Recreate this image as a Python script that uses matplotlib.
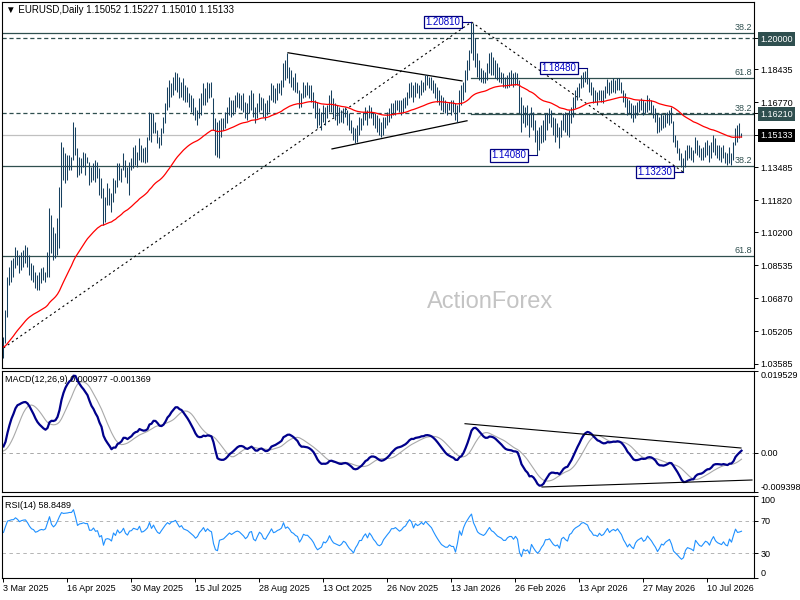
import numpy as np
import matplotlib
matplotlib.use("Agg")
from matplotlib import pyplot as plt

plt.rcParams['font.family'] = ['Liberation Sans', 'DejaVu Sans']
plt.rcParams['lines.scale_dashes'] = False

# daily bars, 3 Mar 2025 ...
highs = [
    1.0493, 1.0629, 1.0796, 1.0846, 1.0881, 1.0891, 1.0947, 1.0932, 1.0907, 1.0922,
    1.0932, 1.0957, 1.0947, 1.0907, 1.0866, 1.0856, 1.0821, 1.0806, 1.0821, 1.0841,
    1.0846, 1.0821, 1.0922, 1.1144, 1.1108, 1.1048, 1.1018, 1.1093, 1.1250, 1.1477,
    1.1451, 1.1421, 1.1411, 1.1411, 1.1401, 1.1578, 1.1552, 1.1446, 1.1401, 1.1396,
    1.1426, 1.1421, 1.1401, 1.1376, 1.1351, 1.1371, 1.1386, 1.1376, 1.1345, 1.1295,
    1.1245, 1.1199, 1.1270, 1.1245, 1.1219, 1.1295, 1.1285, 1.1371, 1.1371, 1.1345,
    1.1421, 1.1386, 1.1351, 1.1376, 1.1396, 1.1451, 1.1461, 1.1426, 1.1497, 1.1461,
    1.1446, 1.1451, 1.1502, 1.1628, 1.1623, 1.1623, 1.1578, 1.1537, 1.1502, 1.1547,
    1.1603, 1.1673, 1.1754, 1.1789, 1.1774, 1.1805, 1.1830, 1.1825, 1.1805, 1.1779,
    1.1800, 1.1764, 1.1754, 1.1724, 1.1714, 1.1699, 1.1653, 1.1638, 1.1699, 1.1724,
    1.1774, 1.1749, 1.1779, 1.1774, 1.1779, 1.1699, 1.1598, 1.1578, 1.1588, 1.1598,
    1.1598, 1.1628, 1.1653, 1.1704, 1.1689, 1.1689, 1.1714, 1.1729, 1.1724, 1.1714,
    1.1724, 1.1678, 1.1673, 1.1714, 1.1739, 1.1724, 1.1653, 1.1673, 1.1724, 1.1704,
    1.1699, 1.1673, 1.1689, 1.1714, 1.1774, 1.1764, 1.1749, 1.1774, 1.1774, 1.1789,
    1.1875, 1.1890, 1.1926, 1.1855, 1.1840, 1.1805, 1.1825, 1.1779, 1.1739, 1.1724,
    1.1779, 1.1764, 1.1779, 1.1764, 1.1764, 1.1729, 1.1689, 1.1678, 1.1648, 1.1628,
    1.1663, 1.1653, 1.1663, 1.1714, 1.1739, 1.1699, 1.1673, 1.1663, 1.1653, 1.1638,
    1.1648, 1.1653, 1.1638, 1.1623, 1.1588, 1.1552, 1.1547, 1.1562, 1.1603, 1.1598,
    1.1628, 1.1653, 1.1638, 1.1663, 1.1653, 1.1628, 1.1623, 1.1613, 1.1598, 1.1578,
    1.1603, 1.1603, 1.1628, 1.1648, 1.1673, 1.1673, 1.1689, 1.1689, 1.1689, 1.1689,
    1.1699, 1.1704, 1.1729, 1.1774, 1.1779, 1.1764, 1.1779, 1.1774, 1.1764, 1.1789,
    1.1779, 1.1815, 1.1815, 1.1805, 1.1805, 1.1789, 1.1774, 1.1754, 1.1739, 1.1714,
    1.1704, 1.1689, 1.1673, 1.1678, 1.1689, 1.1689, 1.1673, 1.1663, 1.1739, 1.1764,
    1.1779, 1.1840, 1.1890, 1.1941, 1.2081, 1.2076, 1.2001, 1.1926, 1.1890, 1.1850,
    1.1840, 1.1830, 1.1875, 1.1926, 1.1931, 1.1905, 1.1890, 1.1875, 1.1855, 1.1830,
    1.1825, 1.1805, 1.1815, 1.1830, 1.1840, 1.1825, 1.1830, 1.1825, 1.1789, 1.1704,
    1.1663, 1.1653, 1.1663, 1.1623, 1.1653, 1.1628, 1.1588, 1.1537, 1.1552, 1.1562,
    1.1588, 1.1623, 1.1623, 1.1648, 1.1638, 1.1603, 1.1598, 1.1572, 1.1552, 1.1588,
    1.1623, 1.1628, 1.1623, 1.1638, 1.1653, 1.1704, 1.1739, 1.1754, 1.1774, 1.1815,
    1.1830, 1.1835, 1.1848, 1.1800, 1.1779, 1.1754, 1.1739, 1.1729, 1.1739, 1.1739,
    1.1739, 1.1759, 1.1795, 1.1779, 1.1789, 1.1800, 1.1789, 1.1800, 1.1800, 1.1779,
    1.1739, 1.1724, 1.1699, 1.1689, 1.1673, 1.1663, 1.1663, 1.1678, 1.1689, 1.1699,
    1.1689, 1.1678, 1.1714, 1.1699, 1.1689, 1.1663, 1.1648, 1.1623, 1.1603, 1.1623,
    1.1613, 1.1623, 1.1628, 1.1638, 1.1653, 1.1580, 1.1512, 1.1487, 1.1446, 1.1421,
    1.1396, 1.1436, 1.1461, 1.1461, 1.1451, 1.1436, 1.1502, 1.1487, 1.1461, 1.1446,
    1.1451, 1.1477, 1.1487, 1.1461, 1.1477, 1.1512, 1.1497, 1.1461, 1.1461, 1.1451,
    1.1461, 1.1426, 1.1421, 1.1451, 1.1421, 1.1477, 1.1547, 1.1562, 1.1572, 1.15227,
]
lows = [
    1.0387, 1.0463, 1.0594, 1.0755, 1.0770, 1.0796, 1.0841, 1.0856, 1.0816, 1.0831,
    1.0846, 1.0866, 1.0846, 1.0806, 1.0780, 1.0770, 1.0740, 1.0730, 1.0730, 1.0765,
    1.0780, 1.0770, 1.0796, 1.0796, 1.0917, 1.0881, 1.0891, 1.0907, 1.0942, 1.1149,
    1.1285, 1.1270, 1.1285, 1.1335, 1.1335, 1.1386, 1.1411, 1.1300, 1.1310, 1.1320,
    1.1351, 1.1310, 1.1371, 1.1260, 1.1275, 1.1285, 1.1275, 1.1295, 1.1209, 1.1194,
    1.1058, 1.1073, 1.1159, 1.1159, 1.1124, 1.1174, 1.1219, 1.1250, 1.1285, 1.1275,
    1.1335, 1.1300, 1.1270, 1.1209, 1.1335, 1.1345, 1.1361, 1.1351, 1.1386, 1.1376,
    1.1376, 1.1371, 1.1376, 1.1487, 1.1477, 1.1522, 1.1522, 1.1472, 1.1446, 1.1461,
    1.1522, 1.1572, 1.1638, 1.1653, 1.1704, 1.1714, 1.1739, 1.1729, 1.1699, 1.1704,
    1.1689, 1.1678, 1.1678, 1.1653, 1.1628, 1.1613, 1.1588, 1.1562, 1.1598, 1.1613,
    1.1663, 1.1663, 1.1678, 1.1699, 1.1704, 1.1537, 1.1411, 1.1401, 1.1396, 1.1502,
    1.1537, 1.1547, 1.1572, 1.1613, 1.1603, 1.1613, 1.1628, 1.1653, 1.1648, 1.1638,
    1.1628, 1.1598, 1.1588, 1.1623, 1.1638, 1.1603, 1.1572, 1.1598, 1.1628, 1.1638,
    1.1603, 1.1588, 1.1613, 1.1628, 1.1689, 1.1678, 1.1673, 1.1689, 1.1724, 1.1714,
    1.1754, 1.1789, 1.1800, 1.1774, 1.1754, 1.1739, 1.1729, 1.1724, 1.1648, 1.1653,
    1.1699, 1.1704, 1.1714, 1.1699, 1.1678, 1.1648, 1.1598, 1.1547, 1.1562, 1.1537,
    1.1578, 1.1562, 1.1598, 1.1628, 1.1628, 1.1603, 1.1588, 1.1562, 1.1572, 1.1578,
    1.1572, 1.1603, 1.1562, 1.1537, 1.1522, 1.1487, 1.1472, 1.1477, 1.1512, 1.1537,
    1.1562, 1.1588, 1.1562, 1.1598, 1.1598, 1.1562, 1.1547, 1.1527, 1.1512, 1.1502,
    1.1512, 1.1547, 1.1562, 1.1578, 1.1598, 1.1613, 1.1613, 1.1638, 1.1628, 1.1613,
    1.1623, 1.1648, 1.1663, 1.1699, 1.1704, 1.1678, 1.1704, 1.1724, 1.1699, 1.1714,
    1.1729, 1.1739, 1.1764, 1.1749, 1.1739, 1.1724, 1.1699, 1.1678, 1.1663, 1.1638,
    1.1628, 1.1623, 1.1613, 1.1638, 1.1613, 1.1628, 1.1588, 1.1578, 1.1628, 1.1660,
    1.1689, 1.1729, 1.1789, 1.1840, 1.1926, 1.1890, 1.1855, 1.1805, 1.1789, 1.1779,
    1.1774, 1.1774, 1.1789, 1.1825, 1.1815, 1.1815, 1.1800, 1.1789, 1.1779, 1.1774,
    1.1754, 1.1749, 1.1749, 1.1754, 1.1764, 1.1754, 1.1764, 1.1764, 1.1623, 1.1527,
    1.1572, 1.1552, 1.1562, 1.1502, 1.1552, 1.1537, 1.1477, 1.1408, 1.1436, 1.1472,
    1.1477, 1.1487, 1.1537, 1.1572, 1.1552, 1.1512, 1.1477, 1.1502, 1.1446, 1.1502,
    1.1537, 1.1527, 1.1512, 1.1502, 1.1572, 1.1603, 1.1648, 1.1689, 1.1704, 1.1749,
    1.1754, 1.1779, 1.1769, 1.1729, 1.1714, 1.1673, 1.1678, 1.1663, 1.1689, 1.1678,
    1.1673, 1.1699, 1.1724, 1.1714, 1.1724, 1.1729, 1.1724, 1.1739, 1.1739, 1.1724,
    1.1678, 1.1653, 1.1613, 1.1623, 1.1598, 1.1578, 1.1598, 1.1613, 1.1628, 1.1638,
    1.1613, 1.1623, 1.1628, 1.1638, 1.1623, 1.1598, 1.1578, 1.1522, 1.1527, 1.1537,
    1.1547, 1.1552, 1.1572, 1.1562, 1.1570, 1.1477, 1.1451, 1.1421, 1.1386, 1.1351,
    1.1323, 1.1351, 1.1386, 1.1396, 1.1386, 1.1376, 1.1421, 1.1411, 1.1401, 1.1386,
    1.1386, 1.1401, 1.1411, 1.1376, 1.1396, 1.1426, 1.1411, 1.1396, 1.1386, 1.1376,
    1.1396, 1.1371, 1.1361, 1.1371, 1.1361, 1.1386, 1.1461, 1.1477, 1.1497, 1.15010,
]
closes = [
    1.0480, 1.0615, 1.0785, 1.0806, 1.0832, 1.0835, 1.0900, 1.0880, 1.0850, 1.0880,
    1.0895, 1.0900, 1.0870, 1.0830, 1.0800, 1.0790, 1.0760, 1.0770, 1.0790, 1.0800,
    1.0795, 1.0810, 1.0900, 1.1040, 1.0960, 1.0930, 1.0970, 1.1060, 1.1200, 1.1360,
    1.1350, 1.1360, 1.1370, 1.1390, 1.1390, 1.1510, 1.1430, 1.1320, 1.1360, 1.1370,
    1.1390, 1.1380, 1.1380, 1.1300, 1.1300, 1.1340, 1.1300, 1.1310, 1.1230, 1.1250,
    1.1090, 1.1180, 1.1190, 1.1180, 1.1150, 1.1280, 1.1240, 1.1350, 1.1300, 1.1330,
    1.1400, 1.1320, 1.1290, 1.1370, 1.1380, 1.1430, 1.1420, 1.1410, 1.1480, 1.1400,
    1.1410, 1.1440, 1.1480, 1.1600, 1.1520, 1.1600, 1.1540, 1.1490, 1.1470, 1.1530,
    1.1590, 1.1660, 1.1720, 1.1700, 1.1760, 1.1770, 1.1800, 1.1760, 1.1720, 1.1750,
    1.1710, 1.1700, 1.1690, 1.1670, 1.1650, 1.1630, 1.1600, 1.1620, 1.1670, 1.1700,
    1.1740, 1.1700, 1.1740, 1.1720, 1.1710, 1.1560, 1.1440, 1.1420, 1.1560, 1.1570,
    1.1580, 1.1610, 1.1640, 1.1670, 1.1650, 1.1670, 1.1690, 1.1700, 1.1690, 1.1670,
    1.1650, 1.1620, 1.1640, 1.1690, 1.1700, 1.1620, 1.1600, 1.1650, 1.1700, 1.1680,
    1.1630, 1.1620, 1.1660, 1.1700, 1.1750, 1.1710, 1.1720, 1.1740, 1.1750, 1.1770,
    1.1850, 1.1800, 1.1820, 1.1800, 1.1770, 1.1760, 1.1740, 1.1730, 1.1670, 1.1700,
    1.1750, 1.1740, 1.1740, 1.1720, 1.1700, 1.1670, 1.1620, 1.1580, 1.1590, 1.1600,
    1.1640, 1.1630, 1.1650, 1.1690, 1.1650, 1.1620, 1.1610, 1.1600, 1.1590, 1.1600,
    1.1620, 1.1610, 1.1580, 1.1550, 1.1530, 1.1500, 1.1530, 1.1550, 1.1580, 1.1580,
    1.1610, 1.1630, 1.1600, 1.1640, 1.1620, 1.1590, 1.1570, 1.1540, 1.1530, 1.1540,
    1.1570, 1.1590, 1.1610, 1.1630, 1.1660, 1.1660, 1.1670, 1.1660, 1.1650, 1.1660,
    1.1680, 1.1690, 1.1720, 1.1750, 1.1740, 1.1710, 1.1750, 1.1740, 1.1750, 1.1770,
    1.1760, 1.1790, 1.1780, 1.1770, 1.1760, 1.1740, 1.1720, 1.1700, 1.1680, 1.1660,
    1.1650, 1.1640, 1.1640, 1.1650, 1.1640, 1.1640, 1.1600, 1.1640, 1.1720, 1.1690,
    1.1760, 1.1820, 1.1870, 1.1930, 1.1990, 1.1920, 1.1880, 1.1830, 1.1810, 1.1800,
    1.1790, 1.1810, 1.1850, 1.1890, 1.1860, 1.1850, 1.1830, 1.1810, 1.1800, 1.1790,
    1.1770, 1.1770, 1.1790, 1.1800, 1.1800, 1.1780, 1.1800, 1.1780, 1.1640, 1.1560,
    1.1620, 1.1590, 1.1600, 1.1530, 1.1620, 1.1560, 1.1500, 1.1450, 1.1470, 1.1510,
    1.1540, 1.1600, 1.1600, 1.1610, 1.1570, 1.1530, 1.1510, 1.1520, 1.1470, 1.1570,
    1.1590, 1.1560, 1.1540, 1.1620, 1.1640, 1.1690, 1.1720, 1.1740, 1.1760, 1.1800,
    1.1810, 1.1800, 1.1790, 1.1750, 1.1730, 1.1700, 1.1700, 1.1690, 1.1720, 1.1700,
    1.1710, 1.1740, 1.1770, 1.1740, 1.1760, 1.1770, 1.1760, 1.1780, 1.1760, 1.1740,
    1.1700, 1.1670, 1.1630, 1.1650, 1.1620, 1.1600, 1.1640, 1.1660, 1.1670, 1.1680,
    1.1650, 1.1660, 1.1690, 1.1670, 1.1650, 1.1620, 1.1590, 1.1540, 1.1560, 1.1590,
    1.1580, 1.1600, 1.1610, 1.1620, 1.1580, 1.1500, 1.1470, 1.1440, 1.1400, 1.1360,
    1.1370, 1.1420, 1.1440, 1.1430, 1.1420, 1.1400, 1.1480, 1.1450, 1.1420, 1.1410,
    1.1430, 1.1450, 1.1440, 1.1410, 1.1450, 1.1480, 1.1440, 1.1420, 1.1410, 1.1400,
    1.1420, 1.1390, 1.1380, 1.1430, 1.1400, 1.1460, 1.1530, 1.1500, 1.1505, 1.15133,
]

date_bars = [0, 32, 64, 96, 128, 160, 192, 224, 256, 288, 320, 352]
date_labels = ["3 Mar 2025", "16 Apr 2025", "30 May 2025", "15 Jul 2025", "28 Aug 2025",
               "13 Oct 2025", "26 Nov 2025", "13 Jan 2026", "26 Feb 2026", "13 Apr 2026",
               "27 May 2026", "10 Jul 2026"]
price_ticks = [1.20000, 1.18435, 1.16770, 1.16210, 1.15133, 1.13485, 1.11820,
               1.10200, 1.08535, 1.06870, 1.05205, 1.03585]

# indicator starting values read at the left edge
ema_start = 1.0442
fast_start, slow_start = 1.0465, 1.0450
signal_start = 0.0003
gain_start, loss_start = 0.0030, 0.0024
macd_max, macd_min = 0.019529, -0.009398

# drawn objects
swing_labels = [(234, 1.2081, "1.20810"), (292, 1.1848, "1.18480"),
                (267, 1.1408, "1.14080"), (340, 1.1323, "1.13230")]
fib_solid = [(1.2025, "38.2", 0), (1.1798, "61.8", 233.75), (1.1617, "38.2", 233.75),
             (1.1354, "38.2", 0), (1.0900, "61.8", 0)]
dashed_levels = [1.2000, 1.1621]
last_price = 1.15133

n = len(closes)
x = np.arange(n)

# EMA 55
ema = [ema_start]
for c in closes[1:]:
    ema.append(ema[-1] + 2 / 56 * (c - ema[-1]))

# MACD 12,26,9
f, s = fast_start, slow_start
macd = []
for i, c in enumerate(closes):
    if i > 0:
        f += 2 / 13 * (c - f)
        s += 2 / 27 * (c - s)
    macd.append(f - s)
padded = [signal_start] * 8 + macd
signal = [np.mean(padded[i:i + 9]) for i in range(n)]

# RSI 14
ag, al = gain_start, loss_start
rsi = [100 - 100 / (1 + ag / al)]
for i in range(1, n):
    d = closes[i] - closes[i - 1]
    ag = (ag * 13 + max(d, 0)) / 14
    al = (al * 13 + max(-d, 0)) / 14
    rsi.append(100 - 100 / (1 + ag / al))

bar_col = '#17405F'
lvl_col = '#2F4F4F'

fig = plt.figure(figsize=(8, 6), dpi=100)
ax1 = fig.add_axes([2 / 800, 1 - 368 / 600, 752 / 800, 366 / 600])
ax2 = fig.add_axes([2 / 800, 1 - 492 / 600, 752 / 800, 121 / 600])
ax3 = fig.add_axes([2 / 800, 1 - 578 / 600, 752 / 800, 82 / 600])

for ax in (ax1, ax2, ax3):
    ax.set_xlim(-0.75, 375.25)
    ax.yaxis.tick_right()
    ax.tick_params(axis='y', direction='out', length=3, pad=1.5, labelsize=6.5, width=0.7)
    for sp in ax.spines.values():
        sp.set_linewidth(0.8)
ax1.set_xticks([])
ax2.set_xticks([])

# ---- price panel
ax1.set_ylim(1.0336, 1.2182)
for lv, txt, start in fib_solid:
    ax1.plot([start, 375.25], [lv, lv], color=lvl_col, lw=0.9)
    ax1.text(374.5, lv + 0.0006, txt, ha='right', va='bottom', fontsize=6.5, color=lvl_col)
for lv in dashed_levels:
    ax1.axhline(lv, color=lvl_col, lw=0.9, ls=(0, (3, 2)))
ax1.axhline(last_price, color='#C0C0C0', lw=0.9)

ax1.plot([0, 234], [1.0437, 1.2081], color='black', lw=0.8, ls=(0, (1.5, 2.2)))
ax1.plot([234, 340], [1.2081, 1.1323], color='black', lw=0.8, ls=(0, (1.5, 2.2)))
ax1.plot([142.25, 229.25], [1.1926, 1.1784], color='black', lw=0.9)
ax1.plot([164.25, 231.75], [1.1441, 1.1583], color='black', lw=0.9)

ax1.vlines(x, lows, highs, color=bar_col, lw=0.75)
ax1.plot(x, ema, color='red', lw=0.9)

for b, p, txt in swing_labels:
    ax1.plot([b - 5.5, b], [p, p], color='#000080', lw=0.8)
    ax1.text(b - 5.5, p, txt, ha='right', va='center', fontsize=7, color='#0000C8',
             bbox=dict(boxstyle='square,pad=0.12', fc='white', ec='#000080', lw=0.9))

ax1.set_yticks(price_ticks)
ax1.set_yticklabels(['%.5f' % v for v in price_ticks])
for lab, v in zip(ax1.get_yticklabels(), price_ticks):
    if v in (1.20000, 1.16210):
        lab.set_color('white')
        lab.set_bbox(dict(fc=lvl_col, ec='none', pad=1.6))
    elif v == last_price:
        lab.set_color('white')
        lab.set_bbox(dict(fc='black', ec='none', pad=1.6))

fig.text(490 / 800, 1 - 302 / 600, 'ActionForex', ha='center', va='center',
         fontsize=17, color='#C4C4C4')
fig.text(6 / 800, 1 - 10 / 600, '\u25bc EURUSD,Daily 1.15052 1.15227 1.15010 1.15133',
         ha='left', va='center', fontsize=7, color='black')

# ---- MACD panel
ax2.set_ylim(macd_min, macd_max)
ax2.axhline(0, color='#A8A8A8', lw=0.7, ls=(0, (2.5, 2.5)))
ax2.plot(x, signal, color='#A9A9A9', lw=0.8)
ax2.plot(x, macd, color='#00008B', lw=1.6)
ax2.plot([230.75, 368.75], [0.00693, 0.00112], color='black', lw=0.8)
ax2.plot([269.25, 374.25], [-0.0082, -0.00653], color='black', lw=0.8)
ax2.set_yticks([macd_max, 0, macd_min])
ax2.set_yticklabels(['0.019529', '0.00', '-0.009398'])
labs = ax2.get_yticklabels()
labs[0].set_va('top')
labs[2].set_va('bottom')
ax2.text(3 / 752, 1 - 8 / 121, 'MACD(12,26,9) 0.000977 -0.001369', transform=ax2.transAxes,
         ha='left', va='center', fontsize=6.5)

# ---- RSI panel
ax3.set_ylim(0, 100)
for lv in (70, 30):
    ax3.axhline(lv, color='#B4B4B4', lw=0.7, ls=(0, (2.5, 2.5)))
ax3.plot(x, rsi, color='#1E90FF', lw=0.8)
ax3.set_yticks([100, 70, 30, 0])
ax3.set_yticklabels(['100', '70', '30', '0'])
labs = ax3.get_yticklabels()
labs[0].set_va('top')
labs[3].set_va('bottom')
ax3.text(3 / 752, 1 - 9 / 82, 'RSI(14) 58.8489', transform=ax3.transAxes,
         ha='left', va='center', fontsize=6.5)
ax3.set_xticks(date_bars)
ax3.set_xticklabels(date_labels, ha='left', fontsize=6.5)
ax3.tick_params(axis='x', direction='out', length=3, pad=1.5, width=0.7)

fig.savefig('out.png', dpi=100)
